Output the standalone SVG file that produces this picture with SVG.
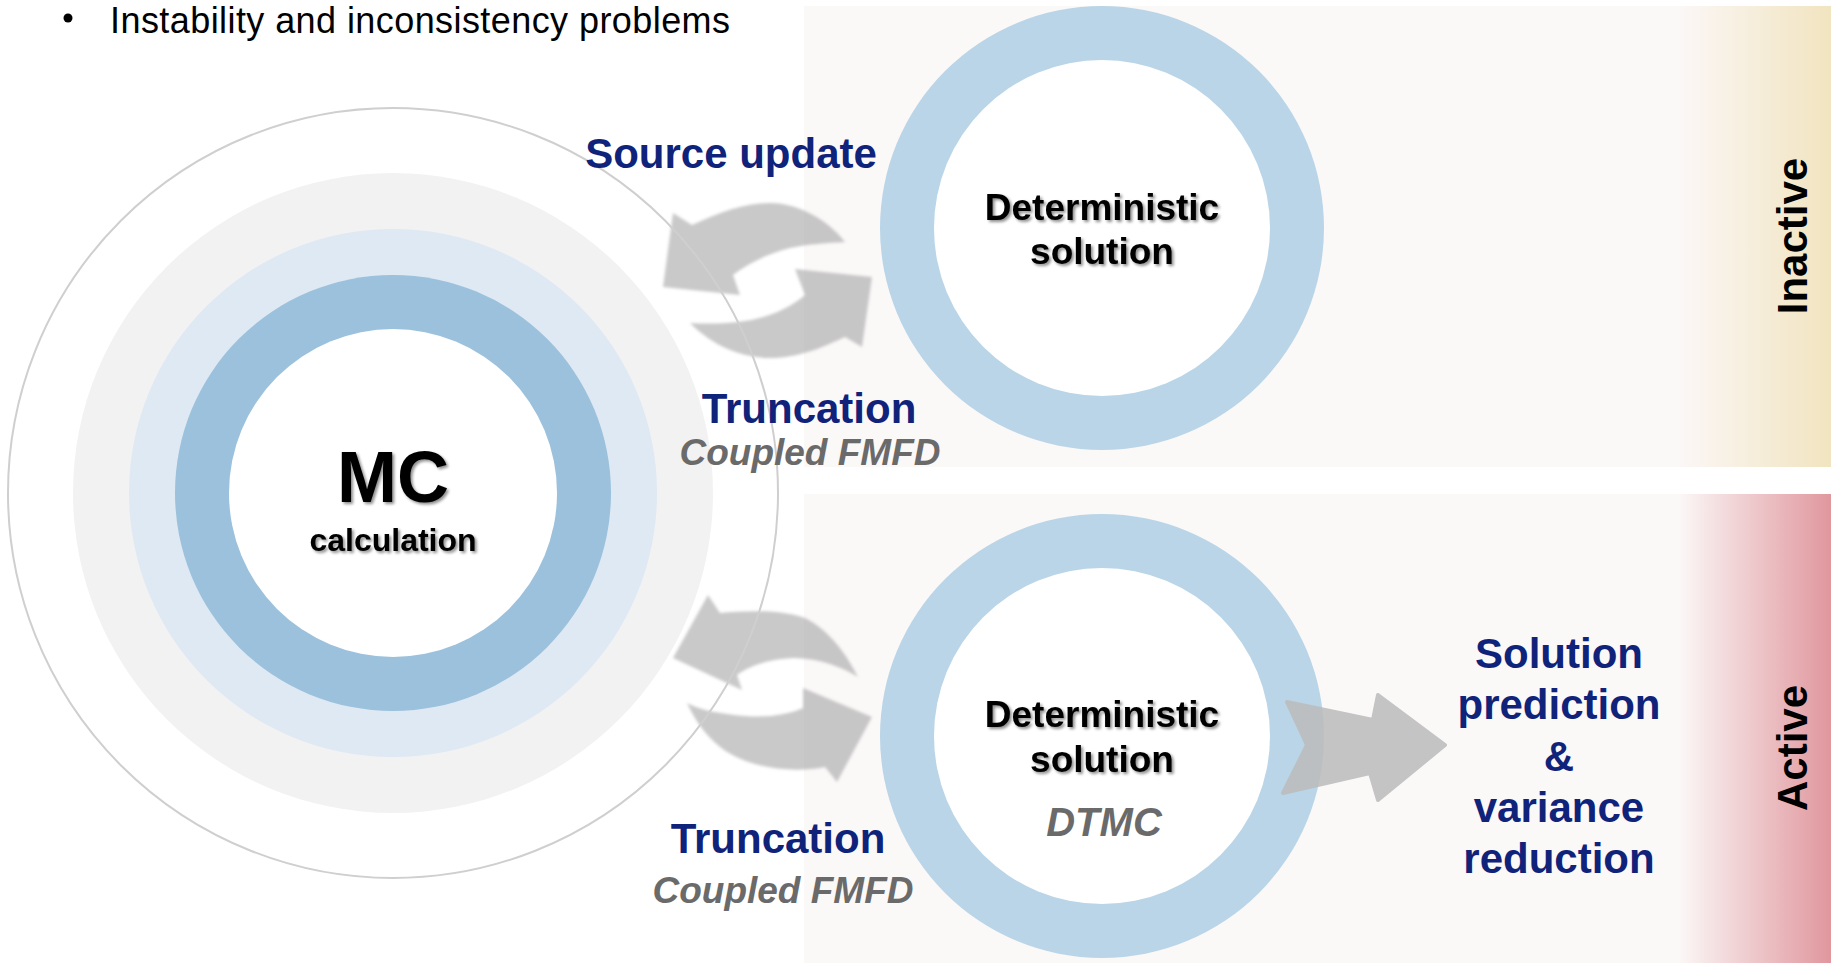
<svg xmlns="http://www.w3.org/2000/svg" width="1831" height="963" viewBox="0 0 1831 963">
  <defs>
    <style>
      .navy { font-family: "Liberation Sans", Arial, sans-serif; font-weight: bold; fill: #10237a; text-anchor: middle; }
      .gray-it { font-family: "Liberation Sans", Arial, sans-serif; font-weight: bold; font-style: italic; fill: #6a6a6a; text-anchor: middle; }
      .black { font-family: "Liberation Sans", Arial, sans-serif; font-weight: bold; fill: #000; text-anchor: middle; }
      .side { font-family: "Liberation Sans", Arial, sans-serif; font-weight: bold; fill: #000; text-anchor: middle; font-size: 42px; }
      .cycle { fill: #9c9c9c; opacity: 0.55; }
    </style>
    <linearGradient id="gradInactive" gradientUnits="userSpaceOnUse" x1="1680" y1="0" x2="1831" y2="0">
      <stop offset="0" stop-color="#fbf7f6"/>
      <stop offset="1" stop-color="#f1e4c0"/>
    </linearGradient>
    <linearGradient id="gradActive" gradientUnits="userSpaceOnUse" x1="1680" y1="0" x2="1831" y2="0">
      <stop offset="0" stop-color="#fbf7f6"/>
      <stop offset="1" stop-color="#e0979e"/>
    </linearGradient>
    <filter id="soft" x="-10%" y="-10%" width="120%" height="120%">
      <feGaussianBlur stdDeviation="1.6"/>
    </filter>
    <filter id="shadow" x="-10%" y="-20%" width="130%" height="150%">
      <feGaussianBlur in="SourceAlpha" stdDeviation="1.5"/>
      <feOffset dx="2" dy="2" result="b"/>
      <feComponentTransfer><feFuncA type="linear" slope="0.45"/></feComponentTransfer>
      <feMerge><feMergeNode/><feMergeNode in="SourceGraphic"/></feMerge>
    </filter>
  </defs>

  <rect width="1831" height="963" fill="#ffffff"/>

  <!-- heading bullet -->
  <g id="heading">
    <circle cx="68" cy="18" r="4.5" fill="#000"/>
    <text x="110" y="33" font-family="Liberation Sans, Arial, sans-serif" font-size="36" fill="#000" textLength="620" lengthAdjust="spacing">Instability and inconsistency problems</text>
  </g>

  <!-- state bands -->
  <g id="band-inactive">
    <rect x="804" y="6" width="1027" height="461" fill="#fbf8f8"/>
    <rect x="1680" y="6" width="151" height="461" fill="url(#gradInactive)"/>
    <text class="side" transform="translate(1807 236) rotate(-90)">Inactive</text>
  </g>
  <g id="band-active">
    <rect x="804" y="494" width="1027" height="469" fill="#fbf8f8"/>
    <rect x="1680" y="494" width="151" height="469" fill="url(#gradActive)"/>
    <text class="side" transform="translate(1807 748) rotate(-90)">Active</text>
  </g>

  <!-- MC calculation node -->
  <g id="mc-node">
    <circle cx="393" cy="493" r="320" fill="#f2f2f2"/>
    <circle cx="393" cy="493" r="264" fill="#dfe9f3"/>
    <circle cx="393" cy="493" r="218" fill="#9bc1dc"/>
    <circle cx="393" cy="493" r="164" fill="#ffffff"/>
    <g filter="url(#shadow)">
      <text class="black" x="393" y="502" font-size="72">MC</text>
      <text class="black" x="393" y="551" font-size="32">calculation</text>
    </g>
  </g>

  <!-- deterministic solution, inactive -->
  <g id="det-inactive">
    <circle cx="1102" cy="228" r="222" fill="#b9d5e7"/>
    <circle cx="1102" cy="228" r="168" fill="#ffffff"/>
    <g filter="url(#shadow)">
      <text class="black" x="1102" y="220" font-size="37">Deterministic</text>
      <text class="black" x="1102" y="264" font-size="37">solution</text>
    </g>
  </g>

  <!-- deterministic solution, active (DTMC) -->
  <g id="det-active">
    <circle cx="1102" cy="736" r="222" fill="#b9d5e7"/>
    <circle cx="1102" cy="736" r="168" fill="#ffffff"/>
    <g filter="url(#shadow)">
      <text class="black" x="1102" y="727" font-size="37">Deterministic</text>
      <text class="black" x="1102" y="772" font-size="37">solution</text>
    </g>
    <text class="gray-it" x="1104" y="836" font-size="40">DTMC</text>
  </g>

  <!-- result node -->
  <g id="result">
    <text class="navy" x="1559" y="668" font-size="42">Solution</text>
    <text class="navy" x="1559" y="719" font-size="42">prediction</text>
    <text class="navy" x="1559" y="771" font-size="42">&amp;</text>
    <text class="navy" x="1559" y="822" font-size="42">variance</text>
    <text class="navy" x="1559" y="873" font-size="42">reduction</text>
  </g>

  <!-- connectors -->
  <g id="connectors">
    <!-- upper exchange: source update / truncation -->
    <g filter="url(#soft)">
      <path class="cycle" d="M845,242 C830,222 800,203 770,203 C745,203 720,212 692,225 L673,213 L663,287 L740,295 L733,275 C745,266 765,254 790,248 C808,244 828,243 845,242 Z"/>
      <path class="cycle" d="M690,323 C705,324 725,324 745,321 C770,317 790,308 805,295 L795,269 L872,277 L862,347 L845,337 C825,346 805,356 775,358 C745,359 715,348 690,323 Z"/>
    </g>
    <!-- lower exchange: truncation -->
    <g filter="url(#soft)">
      <path class="cycle" d="M858,677 C848,657 830,630 805,618 C780,609 745,611 720,613 L708,595 L673,658 L742,690 L737,675 C750,665 770,659 795,658 C820,659 840,666 858,677 Z"/>
      <path class="cycle" d="M687,703 C700,710 720,714 745,716 C770,718 790,714 803,708 L803,688 L872,717 L837,782 L825,767 C805,771 780,771 755,764 C730,757 705,742 687,703 Z"/>
    </g>
    <!-- hand-off to prediction -->
    <path d="M1287,702 L1373,720 L1378,695 L1445,745 L1378,800 L1370,773 L1283,793 L1307,745 Z" fill="#bdbdbd" opacity="0.88" stroke="#bdbdbd" stroke-width="4" stroke-linejoin="round"/>
    <!-- outer orbit of the MC node -->
    <circle cx="393" cy="493" r="385" fill="none" stroke="#cfcfcf" stroke-width="2"/>
  </g>

  <!-- connector labels -->
  <g id="labels">
    <text class="navy" x="731" y="168" font-size="42">Source update</text>
    <text class="navy" x="809" y="423" font-size="42">Truncation</text>
    <text class="gray-it" x="810" y="465" font-size="37">Coupled FMFD</text>
    <text class="navy" x="778" y="853" font-size="42">Truncation</text>
    <text class="gray-it" x="783" y="903" font-size="37">Coupled FMFD</text>
  </g>
</svg>
